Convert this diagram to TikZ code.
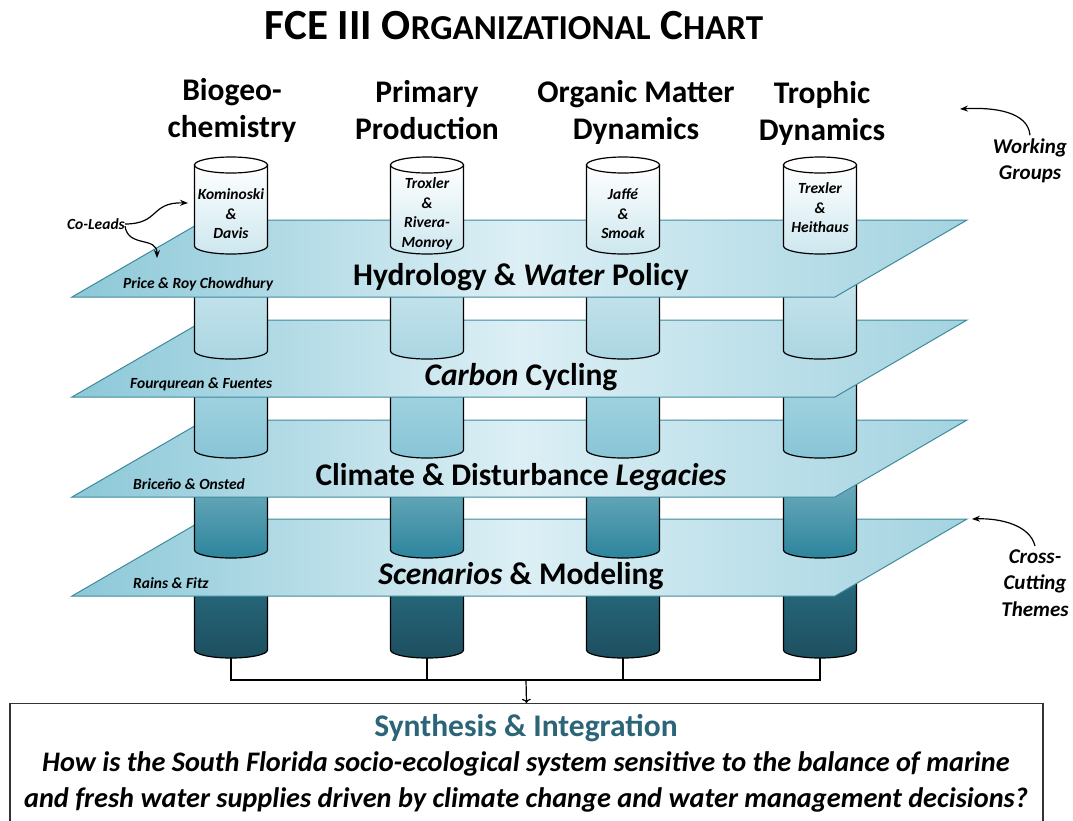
\documentclass[tikz,border=0pt]{standalone}
\usepackage{fontspec}
\setmainfont{Carlito}
\usetikzlibrary{arrows.meta,positioning}
\definecolor{planeL}{HTML}{8CC8D8}
\definecolor{planeM}{HTML}{DCEFF5}
\definecolor{planeR}{HTML}{A3D3E0}
\definecolor{planeedge}{HTML}{3D8A9C}
\definecolor{cylW}{HTML}{CDE7EF}
\definecolor{segAa}{HTML}{CFE8EF}
\definecolor{segAb}{HTML}{AAD6E2}
\definecolor{segBa}{HTML}{ACD8E4}
\definecolor{segBb}{HTML}{88C5D6}
\definecolor{segCa}{HTML}{80B7C6}
\definecolor{segCb}{HTML}{2C849C}
\definecolor{segDa}{HTML}{2A7185}
\definecolor{segDb}{HTML}{1D4F60}
\definecolor{synth}{HTML}{2B6577}
\newcommand{\smc}[1]{{\fontsize{35}{35}\selectfont #1}}
\tikzset{
	plane/.style={draw=planeedge,line width=1pt,left color=planeL,right color=planeR,middle color=planeM},
	cyl/.style={draw=black,line width=1.2pt},
	group/.style={font=\fontsize{31.5}{37}\selectfont\bfseries,align=center},
	lead/.style={font=\fontsize{15.5}{19.5}\selectfont\bfseries\itshape,align=center},
	theme/.style={font=\fontsize{31.5}{34}\selectfont\bfseries},
	colead/.style={font=\fontsize{15.5}{17}\selectfont\bfseries\itshape,anchor=west,inner sep=0pt},
	side/.style={font=\fontsize{21}{26.5}\selectfont\bfseries\itshape,align=center},
	curly/.style={-{Stealth[length=8pt,width=6pt]},line width=1.2pt},
	link/.style={line width=1.2pt}
}

\begin{document}
\begin{tikzpicture}[x=1pt,y=1pt]
\useasboundingbox (0,0) rectangle (1073,-820);

% title and working groups
\node[font=\fontsize{43}{43}\selectfont\bfseries] (title) at (514,-26) {FCE III O\smc{RGANIZATIONAL} C\smc{HART}};
\node[group] (bgc) at (232,-110) {Biogeo-\\chemistry};
\node[group] (pp) at (427,-110) {Primary\\Production};
\node[group] (omd) at (636,-112) {Organic Matter\\Dynamics};
\node[group] (td) at (822,-113) {Trophic\\Dynamics};

% cylinder pieces and theme planes, bottom first
\foreach \py/\sb/\ct/\cb/\lx/\lab/\who in {
	519/650/segDa/segDb/133/{\textit{Scenarios} \& Modeling}/{Rains \& Fitz},
	420/550/segCa/segCb/133/{Climate \& Disturbance \textit{Legacies}}/{Briceño \& Onsted},
	320/450/segBa/segBb/130/{\textit{Carbon} Cycling}/{Fourqurean \& Fuentes},
	220/351/segAa/segAb/123/{Hydrology \& \textit{Water} Policy}/{Price \& Roy Chowdhury}}
{
	\foreach \cx in {231,427,623,820}
		\draw[cyl,top color=\ct,bottom color=\cb] (\cx-36.5,-\py-40) -- (\cx-36.5,-\sb)
			arc[start angle=180,end angle=360,x radius=36.5,y radius=8] -- (\cx+36.5,-\py-40) -- cycle;
	\draw[plane] (72,-\py-77) -- (835,-\py-77) -- (967,-\py) -- (205,-\py) -- cycle;
	\node[theme] (theme\py) at (521,-\py-57) {\lab};
	\node[colead] (who\py) at (\lx,-\py-64) {\who};
}

% working group cylinders
\foreach \cx in {231,427,623,820} {
	\draw[cyl,top color=white,bottom color=cylW] (\cx-36.5,-165) -- (\cx-36.5,-246)
		arc[start angle=180,end angle=360,x radius=36.5,y radius=8] -- (\cx+36.5,-165) -- cycle;
	\draw[cyl,fill=white] (\cx,-165) ellipse[x radius=36.5,y radius=8];
}
\node[lead] (kd) at (231,-214) {Kominoski\\\&\\Davis};
\node[lead] (trm) at (427,-214) {Troxler\\\&\\Rivera-\\Monroy};
\node[lead] (js) at (623,-214) {Jaffé\\\&\\Smoak};
\node[lead] (th) at (820,-208) {Trexler\\\&\\Heithaus};

% co-leads
\node[colead,anchor=center] (colead) at (96,-224) {Co-Leads};
\coordinate (kdtip) at (188,-203);
\coordinate (pricetip) at (157,-258);
\draw[curly] (colead.east) .. controls (160,-224) and (150,-202) .. (kdtip);
\draw[curly] ([yshift=-2pt]colead.east) .. controls (128,-248) and (157,-236) .. (pricetip);

% side notes
\node[side] (wg) at (1030,-161) {Working\\Groups};
\coordinate (wgtip) at (960,-109);
\draw[curly] (wg.north) .. controls (1028,-112) and (995,-107) .. (wgtip);
\node[side] (cct) at (1035,-583) {Cross-\\Cutting\\Themes};
\coordinate (ccttip) at (972,-519);
\draw[curly] (cct.north) .. controls (1030,-525) and (1000,-518) .. (ccttip);

% synthesis
\foreach \cx/\nm in {231/a,427/b,623/c,820/d}
	\coordinate (foot\nm) at (\cx,-658);
\coordinate (joint) at (526,-680);
\node[draw=black!80,line width=1.2pt,minimum width=1033,minimum height=125,anchor=north,inner sep=0pt] (syn) at (526.5,-703) {};
\draw[link] (foota) |- (joint) -| (footd);
\draw[link] (footb) -- (footb |- joint);
\draw[link] (footc) -- (footc |- joint);
\draw[link,->] (joint) -- (syn.north);
\node[font=\fontsize{31.5}{31.5}\selectfont\bfseries,text=synth] (synhead) at (526,-728) {Synthesis \& Integration};
\node[font=\fontsize{28.3}{36}\selectfont\bfseries\itshape,align=center] (question) at (526,-782)
	{How is the South Florida socio-ecological system sensitive to the balance of marine\\
	 and fresh water supplies driven by climate change and water management decisions?};
\end{tikzpicture}
\end{document}
